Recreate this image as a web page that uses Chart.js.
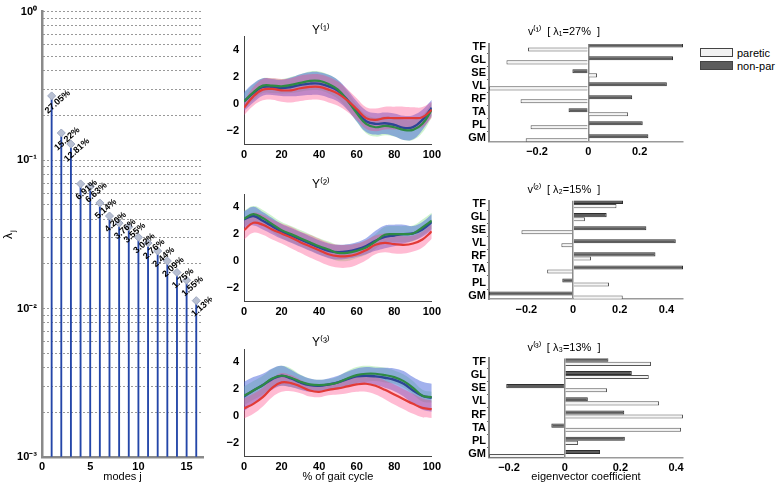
<!DOCTYPE html>
<html>
<head>
<meta charset="utf-8">
<script src="https://cdn.jsdelivr.net/npm/chart.js@4.4.1/dist/chart.umd.min.js"></script>
<style>
  body { margin: 0; background: #fff; width: 778px; height: 485px; overflow: hidden; position: relative; }
  canvas { position: absolute; }
  #legend { position: absolute; left: 700px; top: 48px; font: 11px "Liberation Sans", Arial, sans-serif; color: #000; }
  #legend div { height: 12.5px; line-height: 10px; white-space: nowrap; }
  #legend span { display: inline-block; width: 31px; height: 7px; border: 1px solid #444; vertical-align: top; margin-right: 4px; }
</style>
</head>
<body>
<canvas id="modes" width="212" height="485" style="left:0;top:0"></canvas>
<canvas id="y1" width="235" height="165" style="left:210px;top:0"></canvas>
<canvas id="y2" width="235" height="155" style="left:210px;top:165px"></canvas>
<canvas id="y3" width="235" height="165" style="left:210px;top:320px"></canvas>
<canvas id="v1" width="250" height="165" style="left:445px;top:0"></canvas>
<canvas id="v2" width="250" height="155" style="left:445px;top:165px"></canvas>
<canvas id="v3" width="250" height="165" style="left:445px;top:320px"></canvas>
<div id="legend">
  <div><span style="background:#f2f2f2"></span>paretic</div>
  <div><span style="background:#5c5c5c"></span>non-par</div>
</div>
<script>
// eigenvalue spectrum
const modes = [1, 2, 3, 4, 5, 6, 7, 8, 9, 10, 11, 12, 13, 14, 15, 16];
const explainedPct = [27.05, 15.22, 12.81, 6.91, 6.63, 5.14, 4.20, 3.76, 3.55, 3.02, 2.76, 2.44, 2.09, 1.75, 1.55, 1.13];
const decades = [0.001, 0.01, 0.1, 1];
const modeTicks = [0, 5, 10, 15];

// principal component scores over the gait cycle (mean and sd per group)
const gaitPct = [0, 5, 10, 15, 20, 25, 30, 35, 40, 45, 50, 55, 60, 65, 70, 75, 80, 85, 90, 95, 100];
const gaitTicks = [0, 20, 40, 60, 80, 100];
const scoreTicks = [-2, 0, 2, 4];

const y1Blue    = [0.17, 0.8, 1.25, 1.25, 1.17, 1.25, 1.4, 1.5, 1.5, 1.3, 0.97, 0.3, -0.57, -1.3, -1.5, -1.45, -1.57, -1.8, -1.75, -1.2, -0.3];
const y1BlueSd  = [0.7, 0.7, 0.65, 0.6, 0.6, 0.7, 0.8, 0.85, 0.85, 0.85, 0.8, 0.75, 0.75, 0.8, 0.8, 0.8, 0.85, 0.9, 0.9, 0.75, 0.6];
const y1Green   = [0.17, 0.85, 1.35, 1.35, 1.3, 1.4, 1.55, 1.7, 1.7, 1.47, 1.05, 0.25, -0.7, -1.5, -1.75, -1.65, -1.75, -1.95, -1.95, -1.5, -0.45];
const y1GreenSd = [0.6, 0.6, 0.55, 0.55, 0.55, 0.6, 0.65, 0.7, 0.7, 0.7, 0.7, 0.65, 0.65, 0.7, 0.7, 0.7, 0.7, 0.75, 0.75, 0.65, 0.55];
const y1Red     = [-0.3, 0.55, 1.05, 1.1, 1.0, 1.0, 1.15, 1.25, 1.25, 1.05, 0.75, 0.25, -0.4, -1.07, -1.2, -1.07, -1.07, -1.07, -1.07, -1.0, -0.45];
const y1RedSd   = [0.55, 0.7, 0.8, 0.8, 0.85, 0.9, 0.95, 0.95, 0.95, 0.95, 0.9, 0.85, 0.8, 0.8, 0.85, 0.85, 0.85, 0.85, 0.8, 0.75, 0.6];

const y2Blue    = [3.1, 3.35, 3.0, 2.6, 2.2, 1.9, 1.6, 1.3, 1.0, 0.75, 0.65, 0.7, 0.85, 1.1, 1.5, 1.8, 1.9, 2.0, 2.05, 2.35, 2.9];
const y2BlueSd  = [0.6, 0.7, 0.65, 0.6, 0.55, 0.55, 0.55, 0.55, 0.55, 0.55, 0.55, 0.55, 0.55, 0.6, 0.75, 0.85, 0.8, 0.7, 0.55, 0.55, 0.6];
const y2Green   = [3.15, 3.5, 3.2, 2.75, 2.3, 2.0, 1.7, 1.4, 1.1, 0.85, 0.6, 0.6, 0.75, 1.0, 1.45, 1.95, 2.0, 2.0, 2.05, 2.5, 3.0];
const y2GreenSd = [0.6, 0.6, 0.6, 0.6, 0.6, 0.6, 0.6, 0.6, 0.6, 0.6, 0.6, 0.6, 0.55, 0.55, 0.55, 0.6, 0.6, 0.6, 0.6, 0.6, 0.6];
const y2Red     = [2.3, 2.85, 2.7, 2.35, 2.05, 1.75, 1.4, 1.1, 0.8, 0.5, 0.35, 0.35, 0.5, 0.8, 1.2, 1.35, 1.25, 1.2, 1.3, 1.6, 2.2];
const y2RedSd   = [0.7, 0.75, 0.75, 0.75, 0.75, 0.8, 0.8, 0.85, 0.85, 0.85, 0.85, 0.85, 0.8, 0.75, 0.7, 0.7, 0.7, 0.65, 0.6, 0.6, 0.55];

const y3Blue    = [1.45, 1.9, 2.3, 2.75, 3.0, 2.8, 2.5, 2.3, 2.25, 2.35, 2.5, 2.75, 2.95, 3.0, 2.95, 2.85, 2.7, 2.4, 1.9, 1.5, 1.35];
const y3BlueSd  = [1.1, 1.0, 0.85, 0.8, 0.75, 0.65, 0.55, 0.5, 0.45, 0.45, 0.5, 0.55, 0.6, 0.65, 0.65, 0.75, 0.85, 0.95, 1.0, 1.05, 1.05];
const y3Green   = [1.5, 1.9, 2.3, 2.8, 3.0, 2.85, 2.55, 2.35, 2.3, 2.35, 2.5, 2.8, 3.05, 3.15, 3.15, 3.05, 2.9, 2.6, 2.1, 1.5, 1.4];
const y3GreenSd = [0.7, 0.7, 0.7, 0.7, 0.75, 0.7, 0.55, 0.45, 0.4, 0.4, 0.45, 0.55, 0.6, 0.6, 0.55, 0.55, 0.5, 0.5, 0.5, 0.45, 0.4];
const y3Red     = [0.55, 0.9, 1.4, 2.1, 2.5, 2.45, 2.2, 1.9, 1.8, 1.95, 2.05, 2.2, 2.35, 2.4, 2.25, 1.95, 1.6, 1.25, 0.9, 0.6, 0.5];
const y3RedSd   = [0.75, 0.75, 0.7, 0.7, 0.7, 0.6, 0.5, 0.45, 0.4, 0.4, 0.45, 0.5, 0.55, 0.6, 0.65, 0.7, 0.75, 0.75, 0.75, 0.7, 0.65];

// eigenvector coefficients per muscle
const muscles = ['TF', 'GL', 'SE', 'VL', 'RF', 'TA', 'PL', 'GM'];
const muscleTicks = [1, 2, 3, 4, 5, 6, 7, 8];
const v1Paretic = [-0.235, -0.319, 0.034, -0.387, -0.264, 0.155, -0.225, -0.244];
const v1NonPar  = [0.369, 0.33, -0.062, 0.306, 0.171, -0.077, 0.212, 0.234];
const v2Paretic = [0.186, 0.051, -0.221, -0.05, 0.077, -0.111, 0.154, 0.213];
const v2NonPar  = [0.214, 0.144, 0.314, 0.44, 0.353, 0.471, -0.046, -0.36];
const v3Paretic = [0.31, 0.302, 0.152, 0.339, 0.425, 0.418, 0.048, -0.272];
const v3NonPar  = [0.157, 0.241, -0.21, 0.083, 0.214, -0.048, 0.216, 0.127];
const coefTicks1 = [-0.2, 0, 0.2];
const coefTicks = [-0.2, 0, 0.2, 0.4];

Chart.defaults.font.family = '"Liberation Sans", Arial, sans-serif';
Chart.defaults.font.size = 11;
Chart.defaults.color = '#000';
Chart.defaults.animation = false;
Chart.defaults.responsive = false;
Chart.defaults.plugins.legend.display = false;
Chart.defaults.plugins.tooltip.enabled = false;

const minus = v => String(v).replace('-', '\u2212');
const sup = { '0': '\u2070', '1': '\u00b9', '2': '\u00b2', '3': '\u00b3', '-': '\u207b' };
const setTicks = list => s => { s.ticks = list.map(v => ({ value: v })); };

// ---------- left: stem plot of eigenvalues ----------
const stemLabels = {
  id: 'stemLabels',
  afterDatasetsDraw(chart) {
    const ctx = chart.ctx;
    const meta = chart.getDatasetMeta(0);
    ctx.save();
    ctx.font = 'bold 9px "Liberation Sans", Arial, sans-serif';
    ctx.fillStyle = '#000';
    ctx.textAlign = 'center';
    ctx.textBaseline = 'middle';
    meta.data.forEach((pt, i) => {
      ctx.save();
      ctx.translate(pt.x + 6, pt.y + 6);
      ctx.rotate(-42 * Math.PI / 180);
      ctx.fillText(explainedPct[i].toFixed(2) + '%', 0, 0);
      ctx.restore();
    });
    // y label: lambda_j
    ctx.translate(9, 234);
    ctx.rotate(-Math.PI / 2);
    ctx.textAlign = 'left';
    ctx.font = '12px "Liberation Sans", Arial, sans-serif';
    ctx.fillText('\u03bb', -5, 0);
    ctx.font = '8px "Liberation Sans", Arial, sans-serif';
    ctx.fillText('j', 2, 4);
    ctx.restore();
  }
};

const lambdas = explainedPct.map(p => p / 100);

new Chart(document.getElementById('modes'), {
  type: 'bar',
  data: {
    datasets: [
      {
        type: 'line',
        data: modes.map((m, i) => ({ x: m, y: lambdas[i] })),
        showLine: false,
        pointStyle: 'rectRot',
        pointRadius: 4,
        backgroundColor: '#b7bfd2',
        borderColor: '#9ea8c0',
        borderWidth: 1
      },
      {
        type: 'bar',
        data: modes.map((m, i) => ({ x: m, y: lambdas[i] })),
        base: decades[0],
        barThickness: 1.2,
        backgroundColor: '#2446a8'
      }
    ]
  },
  options: {
    layout: { padding: { top: 8, right: 9, left: 0, bottom: 0 } },
    scales: {
      x: {
        type: 'linear', min: 0, max: 16.7, offset: false,
        afterBuildTicks: setTicks(modeTicks),
        afterFit: s => { s.height = 28; },
        grid: { display: false, drawTicks: false, offset: false },
        border: { color: '#8a8a8a', width: 2.5 },
        ticks: { font: { weight: 'bold', size: 11 }, padding: 3, maxRotation: 0 },
        title: { display: true, text: 'modes j', font: { size: 11 }, padding: { top: 0, bottom: 1 } }
      },
      y: {
        type: 'logarithmic', min: decades[0], max: decades[decades.length - 1],
        afterBuildTicks: s => {
          const t = [];
          decades.forEach(d => { for (let k = 1; k <= 9; k++) { if (d * k <= 1.0000001) t.push({ value: d * k }); } });
          s.ticks = t;
        },
        afterFit: s => { s.width = 42; },
        grid: { color: '#333', drawTicks: false, lineWidth: 1 },
        border: { color: '#8a8a8a', width: 2.5, dash: [1, 3] },
        ticks: {
          autoSkip: false, padding: 5, font: { weight: 'bold', size: 11 },
          callback: v => {
            const e = Math.log10(v);
            if (Math.abs(e - Math.round(e)) > 1e-6) return '';
            return '10' + String(Math.round(e)).split('').map(c => sup[c]).join('');
          }
        }
      }
    }
  },
  plugins: [stemLabels]
});

// ---------- middle: component scores ----------
function gaitChart(id, title, sets, box) {
  const band = (mean, sd, k) => gaitPct.map((x, i) => ({ x, y: mean[i] + k * sd[i] }));
  const line = mean => gaitPct.map((x, i) => ({ x, y: mean[i] }));
  const lineDs = (mean, color, w) => ({ data: line(mean), borderColor: color, borderWidth: w, pointRadius: 0, tension: 0.4, fill: false });
  const lowDs = (mean, sd) => ({ data: band(mean, sd, -1), borderWidth: 0, pointRadius: 0, tension: 0.4, fill: false });
  const highDs = (mean, sd, color) => ({ data: band(mean, sd, 1), borderWidth: 0, pointRadius: 0, tension: 0.4, fill: '-1', backgroundColor: color });
  const [blue, blueSd, green, greenSd, red, redSd] = sets;
  new Chart(document.getElementById(id), {
    type: 'line',
    data: {
      datasets: [
        lineDs(red, '#e23a36', 2.2),
        lineDs(green, '#2f8a44', 2.2),
        lineDs(blue, '#2d4596', 2.4),
        lowDs(red, redSd), highDs(red, redSd, 'rgba(255, 60, 130, 0.35)'),
        lowDs(blue, blueSd), highDs(blue, blueSd, 'rgba(70, 100, 220, 0.5)'),
        lowDs(green, greenSd), highDs(green, greenSd, 'rgba(130, 225, 130, 0.4)')
      ]
    },
    options: {
      layout: { padding: { top: 0, right: 13, left: 0, bottom: 0 } },
      plugins: {
        title: { display: true, text: title, font: { size: 12, weight: 'normal', lineHeight: 1 }, padding: { top: box.tTop, bottom: box.tBottom } }
      },
      scales: {
        x: {
          type: 'linear', min: 0, max: 100,
          afterBuildTicks: setTicks(gaitTicks),
          afterFit: s => { s.height = box.axisH; },
          grid: { display: false, drawTicks: false },
          border: { color: '#444', width: 1 },
          ticks: { font: { weight: 'bold', size: 11 }, padding: 4, maxRotation: 0 },
          title: { display: !!box.xTitle, text: box.xTitle || '', font: { size: 11 }, padding: { top: 0, bottom: 1 } }
        },
        y: {
          type: 'linear', min: -3, max: 5,
          afterBuildTicks: setTicks(scoreTicks),
          afterFit: s => { s.width = 34; },
          grid: { display: false, drawTicks: false },
          border: { color: '#444', width: 1 },
          ticks: { font: { weight: 'bold', size: 11 }, padding: 5, callback: minus }
        }
      }
    }
  });
}

gaitChart('y1', 'Y\u207d\u00b9\u207e', [y1Blue, y1BlueSd, y1Green, y1GreenSd, y1Red, y1RedSd], { tTop: 24.6, tBottom: 0, axisH: 21 });
gaitChart('y2', 'Y\u207d\u00b2\u207e', [y2Blue, y2BlueSd, y2Green, y2GreenSd, y2Red, y2RedSd], { tTop: 14, tBottom: 3, axisH: 19 });
gaitChart('y3', 'Y\u207d\u00b3\u207e', [y3Blue, y3BlueSd, y3Green, y3GreenSd, y3Red, y3RedSd], { tTop: 17, tBottom: 0, axisH: 29, xTitle: '% of gait cycle' });

// ---------- right: eigenvector bars ----------
function coefChart(id, title, paretic, nonPar, ticks, box) {
  const all = paretic.concat(nonPar);
  new Chart(document.getElementById(id), {
    type: 'bar',
    data: {
      datasets: [
        { label: 'non-par', data: nonPar.map((v, i) => ({ x: v, y: muscleTicks[i] })), backgroundColor: '#5c5c5c', borderColor: '#2e2e2e', borderWidth: 1 },
        { label: 'paretic', data: paretic.map((v, i) => ({ x: v, y: muscleTicks[i] })), backgroundColor: '#f4f4f4', borderColor: '#555', borderWidth: 1 }
      ]
    },
    options: {
      indexAxis: 'y',
      categoryPercentage: 0.62,
      barPercentage: 1,
      layout: { padding: { top: 0, right: 12, left: 0, bottom: 0 } },
      plugins: {
        title: { display: true, text: title, font: { size: 11, weight: 'normal', lineHeight: 1 }, padding: { top: box.tTop, bottom: box.tBottom } }
      },
      scales: {
        x: {
          type: 'linear', min: Math.min(...all), max: Math.max(...all),
          afterBuildTicks: setTicks(ticks),
          afterFit: s => { s.height = box.axisH; },
          grid: { drawTicks: false, lineWidth: 1.5, color: c => (c.tick && c.tick.value === 0 ? '#8a8a8a' : 'rgba(0,0,0,0)') },
          border: { color: '#9a9a9a', width: 1.5 },
          ticks: { font: { weight: 'bold', size: 11 }, padding: 4, maxRotation: 0, callback: minus },
          title: { display: !!box.xTitle, text: box.xTitle || '', font: { size: 11 }, padding: { top: 0, bottom: 1 } }
        },
        y: {
          type: 'linear', min: 0.74, max: 8.26, reverse: true, offset: false,
          afterBuildTicks: setTicks(muscleTicks),
          afterFit: s => { s.width = 44; },
          grid: { drawOnChartArea: false, drawTicks: true, tickLength: 2, color: '#666' },
          border: { color: '#8a8a8a', width: 2 },
          ticks: { font: { weight: 'bold', size: 11 }, padding: 1, autoSkip: false, callback: v => muscles[v - 1] }
        }
      }
    }
  });
}

coefChart('v1', 'v\u207d\u00b9\u207e  [ \u03bb\u2081=27%  ]', v1Paretic, v1NonPar, coefTicks1, { tTop: 26, tBottom: 7, axisH: 23.3 });
coefChart('v2', 'v\u207d\u00b2\u207e  [ \u03bb\u2082=15%  ]', v2Paretic, v2NonPar, coefTicks, { tTop: 19, tBottom: 5.7, axisH: 21 });
coefChart('v3', 'v\u207d\u00b3\u207e  [ \u03bb\u2083=13%  ]', v3Paretic, v3NonPar, coefTicks, { tTop: 22, tBottom: 5.4, axisH: 27.6, xTitle: 'eigenvector coefficient' });
</script>
</body>
</html>
